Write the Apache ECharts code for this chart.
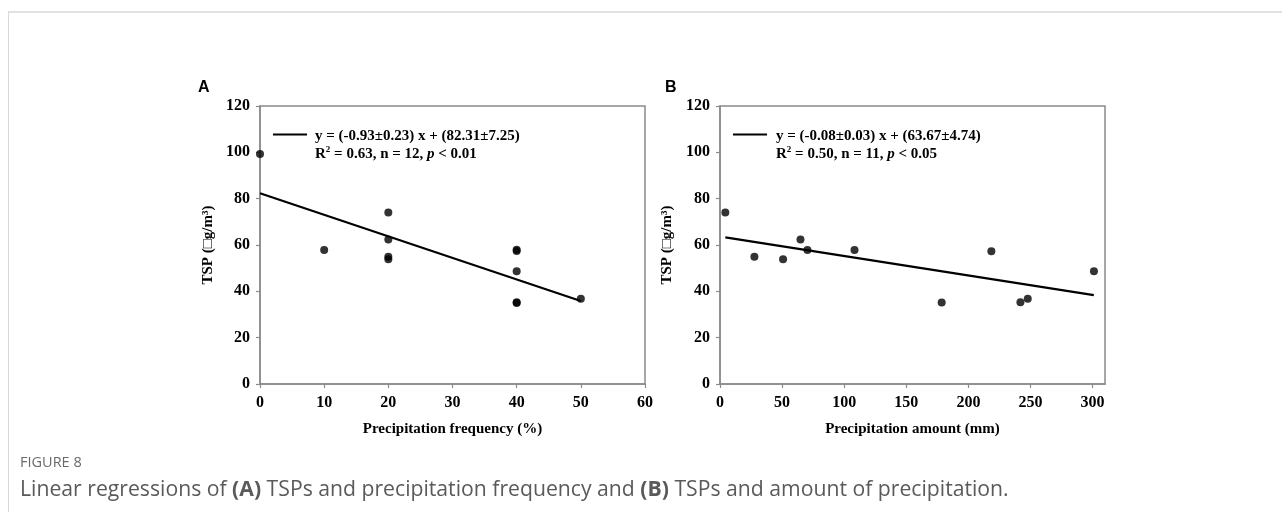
<!DOCTYPE html>
<html>
<head>
<meta charset="utf-8">
<script src="https://cdn.jsdelivr.net/npm/echarts@6/dist/echarts.min.js"></script>
<style>
  html, body { margin: 0; padding: 0; background: #ffffff; }
  #chart { width: 1282px; height: 522px; }
</style>
</head>
<body>
<div id="chart"></div>
<script>
// 面板 A：降水频率 vs TSP
const freqX = [0, 10, 20, 20, 20, 20, 40, 40, 40, 40, 40, 50];
const freqY = [99.3, 57.8, 74.0, 62.4, 54.9, 53.9, 57.4, 58.0, 48.7, 35.3, 35.0, 36.8];
const fitAX = [0, 50];
const fitAY = [82.31, 35.8];

// 面板 B：降水量 vs TSP
const amountX = [4.3, 27.7, 50.8, 64.8, 70.4, 108.3, 178.5, 218.5, 241.9, 247.8, 301.1];
const amountY = [74.0, 54.9, 53.9, 62.4, 57.8, 57.8, 35.2, 57.3, 35.3, 36.8, 48.7];
const fitBX = [4.3, 301];
const fitBY = [63.3, 38.4];

const yTicks = [0, 120, 20];        // min, max, interval
const xTicksA = [0, 60, 10];
const xTicksB = [0, 310, 50];

const serif = '"Liberation Serif", "Times New Roman", serif';
const sans = '"Open Sans", "Noto Sans", sans-serif';
const frameColor = '#8a8a8a';

const zip = (xs, ys) => xs.map((x, i) => [x, ys[i]]);

function valueAxis(idx, ticks, name, gap, isX) {
  return {
    type: 'value',
    gridIndex: idx,
    min: ticks[0],
    max: ticks[1],
    interval: ticks[2],
    name,
    nameLocation: 'middle',
    nameGap: gap,
    nameTextStyle: { fontFamily: serif, fontWeight: 'bold', fontSize: 15, color: '#000' },
    axisLine: { show: true, onZero: false, lineStyle: { color: frameColor, width: 1.5 } },
    axisTick: { show: true, inside: false, length: 4, lineStyle: { color: frameColor, width: 1.2 } },
    axisLabel: {
      fontFamily: serif, fontWeight: 'bold', fontSize: 16, color: '#000',
      margin: isX ? 11 : 10,
      showMaxLabel: !(isX && ticks[1] % ticks[2] !== 0),
    },
    splitLine: { show: false },
  };
}

const scatterStyle = { color: '#000' };

function legendText(eq, r2, n, p) {
  return {
    text: eq + '\n{t|R}{s|2}{t| = ' + r2 + ', n = ' + n + ', }{i|p}{t| < ' + p + '}',
    fontFamily: serif, fontWeight: 'bold', fontSize: 15, fill: '#000', lineHeight: 18,
    rich: {
      t: { fontFamily: serif, fontWeight: 'bold', fontSize: 15, lineHeight: 18 },
      s: { fontFamily: serif, fontWeight: 'bold', fontSize: 9, verticalAlign: 'top', lineHeight: 18, padding: [0, 0, 8, 0] },
      i: { fontFamily: serif, fontWeight: 'bold', fontStyle: 'italic', fontSize: 15, lineHeight: 18 },
    },
  };
}

const myChart = echarts.init(document.getElementById('chart'));

const option = {
  backgroundColor: '#ffffff',
  animation: false,
  grid: [
    { left: 260, top: 106, width: 385, height: 278, show: true, borderColor: frameColor, borderWidth: 1.5 },
    { left: 720, top: 106, width: 385, height: 278, show: true, borderColor: frameColor, borderWidth: 1.5 },
  ],
  xAxis: [
    valueAxis(0, xTicksA, 'Precipitation frequency (%)', 38, true),
    valueAxis(1, xTicksB, 'Precipitation amount (mm)', 38, true),
  ],
  yAxis: [
    valueAxis(0, yTicks, 'TSP (□g/m³)', 44, false),
    valueAxis(1, yTicks, 'TSP (□g/m³)', 45, false),
  ],
  series: [
    {
      type: 'line', xAxisIndex: 0, yAxisIndex: 0, data: zip(fitAX, fitAY),
      showSymbol: false, lineStyle: { color: '#000', width: 2.2 }, z: 2,
    },
    {
      type: 'scatter', xAxisIndex: 0, yAxisIndex: 0, data: zip(freqX, freqY),
      symbolSize: 8, itemStyle: scatterStyle, z: 3,
    },
    {
      type: 'line', xAxisIndex: 1, yAxisIndex: 1, data: zip(fitBX, fitBY),
      showSymbol: false, lineStyle: { color: '#000', width: 2.2 }, z: 2,
    },
    {
      type: 'scatter', xAxisIndex: 1, yAxisIndex: 1, data: zip(amountX, amountY),
      symbolSize: 8, itemStyle: scatterStyle, z: 3,
    },
  ],
  graphic: [
    // 外框
    { type: 'line', shape: { x1: 8, y1: 12, x2: 1282, y2: 12 }, style: { stroke: '#e1e1e1', lineWidth: 2 } },
    { type: 'line', shape: { x1: 8.5, y1: 12, x2: 8.5, y2: 512 }, style: { stroke: '#d8d8d8', lineWidth: 1 } },
    // 面板标签
    { type: 'text', left: 198, top: 80, style: { text: 'A', fontFamily: '"Liberation Sans", Arial, sans-serif', fontWeight: 'bold', fontSize: 16, fill: '#000' } },
    { type: 'text', left: 665, top: 80, style: { text: 'B', fontFamily: '"Liberation Sans", Arial, sans-serif', fontWeight: 'bold', fontSize: 16, fill: '#000' } },
    // 图例 A
    { type: 'line', shape: { x1: 273, y1: 134.5, x2: 307, y2: 134.5 }, style: { stroke: '#000', lineWidth: 2.2 } },
    { type: 'text', left: 315, top: 127, style: legendText('y = (-0.93±0.23) x + (82.31±7.25)', '0.63', 12, '0.01') },
    // 图例 B
    { type: 'line', shape: { x1: 733, y1: 134.5, x2: 767, y2: 134.5 }, style: { stroke: '#000', lineWidth: 2.2 } },
    { type: 'text', left: 776, top: 127, style: legendText('y = (-0.08±0.03) x + (63.67±4.74)', '0.50', 11, '0.05') },
    // 图注
    { type: 'text', left: 20, top: 455, style: { text: 'FIGURE 8', fontFamily: sans, fontSize: 14.5, fill: '#6a6a6a' } },
    {
      type: 'text', left: 20, top: 479,
      style: {
        text: '{n|Linear regressions of }{b|(A)}{n| TSPs and precipitation frequency and }{b|(B)}{n| TSPs and amount of precipitation.}',
        rich: {
          n: { fontFamily: sans, fontSize: 21.2, fill: '#5a5a5a' },
          b: { fontFamily: sans, fontSize: 21.2, fontWeight: 'bold', fill: '#5a5a5a' },
        },
      },
    },
  ],
};

myChart.setOption(option);
</script>
</body>
</html>
